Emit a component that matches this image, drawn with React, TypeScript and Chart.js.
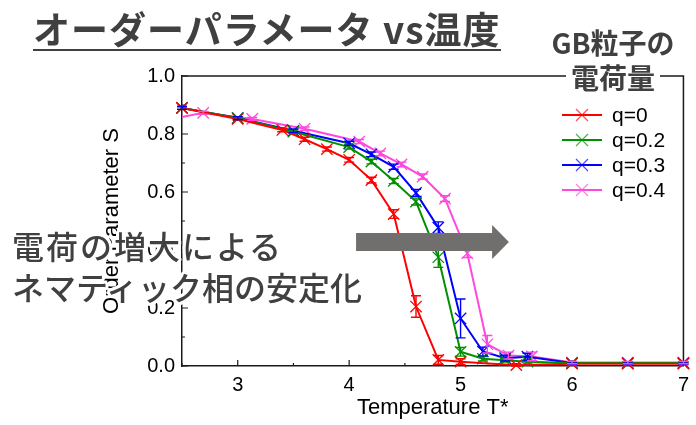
import React, { useEffect, useRef } from "react";
import { Chart, registerables } from "chart.js";

Chart.register(...registerables);

// ---------- data ----------
const seriesLabels = ["q=0", "q=0.2", "q=0.3", "q=0.4"];
const seriesColors = ["#ff0000", "#009000", "#0000ff", "#ff48dc"];

const tempQ0 = [2.5, 3.0, 3.4, 3.6, 3.8, 4.0, 4.2, 4.4, 4.6, 4.8, 5.0, 5.5, 6.0, 6.5, 7.0];
const orderQ0 = [0.89, 0.852, 0.814, 0.782, 0.748, 0.711, 0.641, 0.524, 0.205, 0.021, 0.015, 0.003, 0.008, 0.008, 0.008];
const errQ0 = [0.005, 0.005, 0.006, 0.007, 0.007, 0.008, 0.01, 0.015, 0.037, 0.015, 0.01, 0.005, 0.004, 0.004, 0.004];

const tempQ02 = [2.5, 3.0, 3.5, 4.0, 4.2, 4.4, 4.6, 4.8, 5.0, 5.2, 5.4, 5.6, 6.0, 6.5, 7.0];
const orderQ02 = [0.89, 0.855, 0.808, 0.755, 0.705, 0.638, 0.567, 0.375, 0.049, 0.025, 0.02, 0.015, 0.01, 0.01, 0.01];
const errQ02 = [0.005, 0.005, 0.006, 0.007, 0.008, 0.009, 0.012, 0.035, 0.015, 0.008, 0.006, 0.005, 0.004, 0.004, 0.004];

const tempQ03 = [2.5, 3.0, 3.5, 4.0, 4.2, 4.4, 4.6, 4.8, 5.0, 5.2, 5.4, 5.6, 6.0, 6.5, 7.0];
const orderQ03 = [0.89, 0.855, 0.811, 0.768, 0.73, 0.687, 0.597, 0.477, 0.164, 0.05, 0.027, 0.032, 0.01, 0.01, 0.01];
const errQ03 = [0.005, 0.005, 0.006, 0.007, 0.008, 0.009, 0.012, 0.02, 0.067, 0.015, 0.01, 0.012, 0.004, 0.004, 0.004];

const tempQ04 = [2.25, 2.69, 3.13, 3.6, 4.09, 4.28, 4.47, 4.66, 4.86, 5.06, 5.24, 5.43, 5.64, 6.0, 6.5, 7.0];
const orderQ04 = [0.84, 0.873, 0.852, 0.818, 0.774, 0.733, 0.695, 0.653, 0.577, 0.389, 0.075, 0.036, 0.033, 0.012, 0.012, 0.012];
const errQ04 = [0.005, 0.005, 0.005, 0.006, 0.007, 0.008, 0.008, 0.009, 0.01, 0.015, 0.03, 0.012, 0.015, 0.004, 0.004, 0.004];

const seriesTemps = [tempQ0, tempQ02, tempQ03, tempQ04];
const seriesOrders = [orderQ0, orderQ02, orderQ03, orderQ04];
const seriesErrs = [errQ0, errQ02, errQ03, errQ04];

const xTicks = [3, 4, 5, 6, 7];
const xMinorTicks = [2.5, 3.5, 4.5, 5.5, 6.5];
const yTicks = [0, 0.2, 0.4, 0.6, 0.8, 1.0];
const yMinorTicks = [0.1, 0.3, 0.5, 0.7, 0.9];

// arrow annotation (data coordinates)
const arrowFromT = 4.062;
const arrowBaseT = 5.283;
const arrowTipT = 5.434;
const arrowS = 0.4276;

const titleText = "オーダーパラメータ vs温度";
const noteLines = ["電荷の増大による", "ネマティック相の安定化"];
const legendTitleLines = ["GB粒子の", "電荷量"];

const TICK_FONT = "'Liberation Sans', Arial, sans-serif";
const JP_FONT = "'Noto Sans CJK JP', sans-serif";

const extrasPlugin = {
  id: "extras",
  beforeDatasetsDraw(chart: any) {
    const { ctx, chartArea: a, scales } = chart;
    const xs = scales.x;
    const ys = scales.y;
    ctx.save();
    ctx.strokeStyle = "#1a1a1a";
    ctx.lineWidth = 1.5;
    // top + right frame
    ctx.beginPath();
    ctx.moveTo(a.left, a.top);
    ctx.lineTo(a.right, a.top);
    ctx.lineTo(a.right, a.bottom);
    ctx.stroke();
    // inward ticks
    ctx.lineWidth = 1.2;
    ctx.beginPath();
    xTicks.forEach((v) => {
      const px = xs.getPixelForValue(v);
      ctx.moveTo(px, a.bottom);
      ctx.lineTo(px, a.bottom - 6);
    });
    xMinorTicks.forEach((v) => {
      const px = xs.getPixelForValue(v);
      ctx.moveTo(px, a.bottom);
      ctx.lineTo(px, a.bottom - 3);
    });
    yTicks.forEach((v) => {
      const py = ys.getPixelForValue(v);
      ctx.moveTo(a.left, py);
      ctx.lineTo(a.left + 6, py);
    });
    yMinorTicks.forEach((v) => {
      const py = ys.getPixelForValue(v);
      ctx.moveTo(a.left, py);
      ctx.lineTo(a.left + 3, py);
    });
    ctx.stroke();
    ctx.restore();
  },
  afterDatasetsDraw(chart: any) {
    const { ctx, scales } = chart;
    const xs = scales.x;
    const ys = scales.y;
    ctx.save();
    // error bars
    seriesTemps.forEach((temps, i) => {
      ctx.strokeStyle = seriesColors[i];
      ctx.lineWidth = 1.4;
      ctx.beginPath();
      temps.forEach((t, j) => {
        if (t < xs.min || t > xs.max) return;
        const s = seriesOrders[i][j];
        const e = seriesErrs[i][j];
        const px = xs.getPixelForValue(t);
        const yHi = ys.getPixelForValue(s + e);
        const yLo = ys.getPixelForValue(Math.max(0, s - e));
        ctx.moveTo(px, yHi);
        ctx.lineTo(px, yLo);
        ctx.moveTo(px - 5, yHi);
        ctx.lineTo(px + 5, yHi);
        ctx.moveTo(px - 5, yLo);
        ctx.lineTo(px + 5, yLo);
      });
      ctx.stroke();
    });
    // arrow
    const x0 = xs.getPixelForValue(arrowFromT);
    const xb = xs.getPixelForValue(arrowBaseT);
    const xt = xs.getPixelForValue(arrowTipT);
    const yc = ys.getPixelForValue(arrowS);
    ctx.fillStyle = "#716f6e";
    ctx.beginPath();
    ctx.moveTo(x0, yc - 9);
    ctx.lineTo(xb, yc - 9);
    ctx.lineTo(xb, yc - 17);
    ctx.lineTo(xt, yc);
    ctx.lineTo(xb, yc + 17);
    ctx.lineTo(xb, yc + 9);
    ctx.lineTo(x0, yc + 9);
    ctx.closePath();
    ctx.fill();
    // legend
    const lx0 = 562;
    const lx1 = 602;
    const ly0 = 115;
    const dy = 25;
    ctx.font = `21px ${TICK_FONT}`;
    ctx.textBaseline = "middle";
    ctx.textAlign = "left";
    seriesLabels.forEach((label, i) => {
      const y = ly0 + i * dy;
      ctx.strokeStyle = seriesColors[i];
      ctx.lineWidth = 2;
      ctx.beginPath();
      ctx.moveTo(lx0, y);
      ctx.lineTo(lx1, y);
      ctx.stroke();
      const cx = (lx0 + lx1) / 2;
      const r = 6;
      ctx.lineWidth = 1.2;
      ctx.globalAlpha = 0.7;
      ctx.beginPath();
      ctx.moveTo(cx - r, y - r);
      ctx.lineTo(cx + r, y + r);
      ctx.moveTo(cx - r, y + r);
      ctx.lineTo(cx + r, y - r);
      ctx.stroke();
      ctx.globalAlpha = 1;
      ctx.fillStyle = "#000";
      ctx.fillText(label, 612, y + 1);
    });
    ctx.restore();
  },
};

const haloShadow = (() => {
  const parts: string[] = [];
  const r = 3;
  for (let k = 0; k < 16; k++) {
    const a = (k / 16) * Math.PI * 2;
    parts.push(`${(Math.cos(a) * r).toFixed(2)}px ${(Math.sin(a) * r).toFixed(2)}px 0 #fff`);
  }
  return parts.join(", ");
})();

export default function App() {
  const canvasRef = useRef<HTMLCanvasElement | null>(null);

  useEffect(() => {
    document.body.style.margin = "0";
    const canvas = canvasRef.current;
    if (!canvas) return;
    const datasets = seriesLabels.map((label, i) => ({
      label,
      data: seriesTemps[i].map((t, j) => ({ x: t, y: seriesOrders[i][j] })),
      borderColor: seriesColors[i],
      backgroundColor: seriesColors[i],
      borderWidth: 2,
      pointStyle: "crossRot",
      pointRadius: 8,
      pointBorderWidth: 1.3,
      pointBorderColor: seriesColors[i],
      tension: 0,
      fill: false,
      clip: i === 3 ? { left: 0, top: false, right: false, bottom: false } : false,
    }));

    const chart = new Chart(canvas, {
      type: "line",
      data: { datasets } as any,
      plugins: [extrasPlugin],
      options: {
        responsive: false,
        animation: false,
        devicePixelRatio: 1,
        layout: { padding: { left: 0, top: 76, right: 6, bottom: 0 } },
        plugins: {
          legend: { display: false },
          tooltip: { enabled: false },
          title: { display: false },
        },
        scales: {
          x: {
            type: "linear",
            min: 2.5,
            max: 7,
            afterBuildTicks: (s: any) => {
              s.ticks = xTicks.map((v) => ({ value: v }));
            },
            afterFit: (s: any) => {
              s.height = 59;
            },
            grid: { display: false, drawTicks: false },
            border: { display: true, color: "#1a1a1a", width: 1.5 },
            ticks: {
              padding: 7,
              color: "#000",
              font: { family: TICK_FONT, size: 20 },
              callback: (v: any) => String(v),
            },
            title: {
              display: true,
              text: "Temperature T*",
              color: "#000",
              font: { family: TICK_FONT, size: 22 },
              padding: { top: 0, bottom: 4 },
            },
          },
          y: {
            type: "linear",
            min: 0,
            max: 1,
            afterBuildTicks: (s: any) => {
              s.ticks = yTicks.map((v) => ({ value: v }));
            },
            afterFit: (s: any) => {
              s.width = 182;
            },
            grid: { display: false, drawTicks: false },
            border: { display: true, color: "#1a1a1a", width: 1.5 },
            ticks: {
              padding: 7,
              color: "#000",
              font: { family: TICK_FONT, size: 20 },
              callback: (v: any) => Number(v).toFixed(1),
            },
            title: {
              display: true,
              text: "Order Parameter S",
              color: "#000",
              font: { family: TICK_FONT, size: 22 },
              padding: { top: 99, bottom: 0 },
            },
          },
        },
      } as any,
    });
    return () => chart.destroy();
  }, []);

  return (
    <div style={{ position: "absolute", left: 0, top: 0, width: 696, height: 425, background: "#fff", overflow: "hidden" }}>
      <canvas ref={canvasRef} width={696} height={425} style={{ position: "absolute", left: 0, top: 0, width: 696, height: 425 }} />
      <div
        style={{
          position: "absolute",
          left: 33,
          top: 10,
          fontFamily: JP_FONT,
          fontWeight: 700,
          fontSize: 37,
          lineHeight: "37px",
          letterSpacing: 1,
          color: "#404040",
          whiteSpace: "nowrap",
        }}
      >
        <span style={{ display: "inline-block", borderBottom: "2px solid #404040", paddingBottom: 2 }}>{titleText}</span>
      </div>
      <div
        style={{
          position: "absolute",
          left: 513,
          top: 25,
          width: 200,
          textAlign: "center",
          fontFamily: JP_FONT,
          fontWeight: 700,
          fontSize: 28,
          lineHeight: "35px",
          color: "#404040",
          whiteSpace: "nowrap",
        }}
      >
        <div>{legendTitleLines[0]}</div>
        <div>
          <span style={{ background: "#fff", padding: "0 5px" }}>{legendTitleLines[1]}</span>
        </div>
      </div>
      <div
        style={{
          position: "absolute",
          left: 12,
          top: 225,
          fontFamily: JP_FONT,
          fontWeight: 500,
          fontSize: 32,
          lineHeight: "41px",
          color: "#404040",
          whiteSpace: "nowrap",
          textShadow: haloShadow,
        }}
      >
        {noteLines.map((l, i) => (
          <div key={i} style={{ letterSpacing: i === 0 ? 2 : 0 }}>
            {l}
          </div>
        ))}
      </div>
    </div>
  );
}
